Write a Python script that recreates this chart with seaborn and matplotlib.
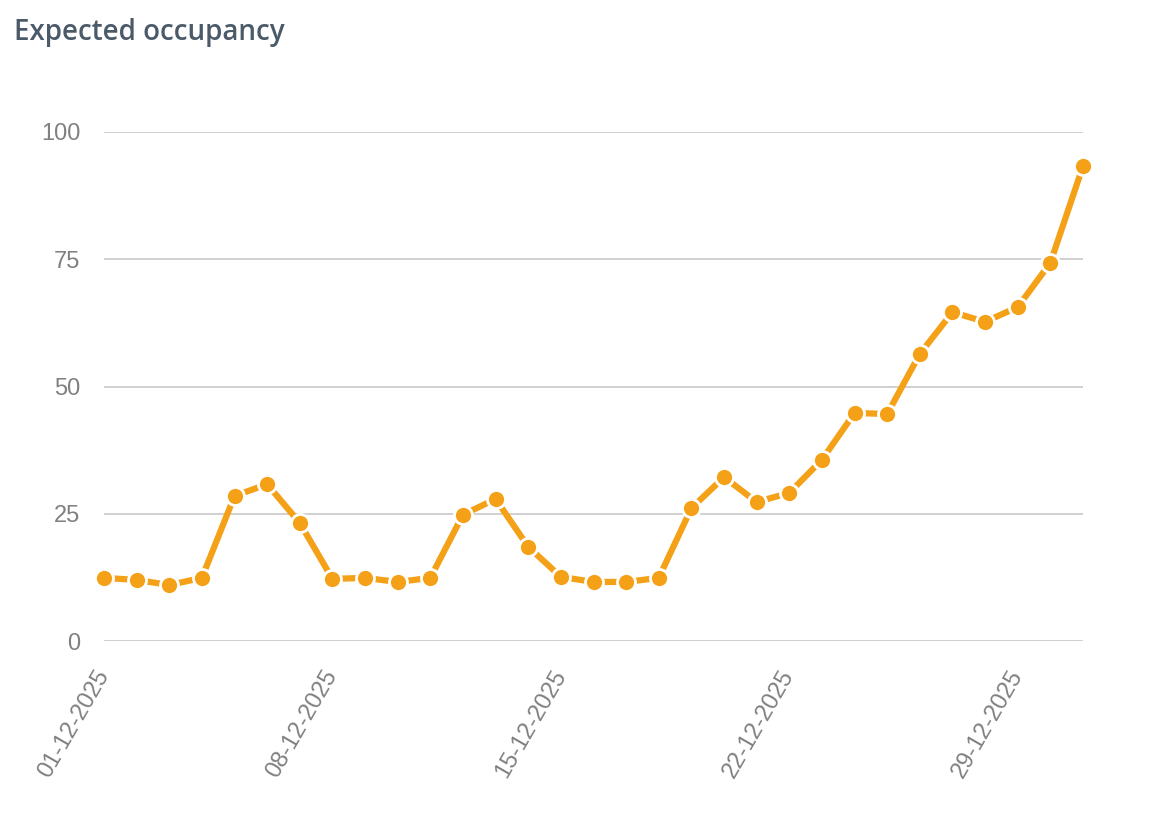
import matplotlib
matplotlib.use("Agg")
import matplotlib.pyplot as plt
import seaborn as sns
import pandas as pd
import numpy as np

dates = pd.date_range("2025-12-01", "2025-12-31", freq="D")
occupancy = [12.4, 12.0, 11.0, 12.4, 28.5, 30.8, 23.2, 12.2, 12.4, 11.6,
             12.4, 24.8, 27.9, 18.5, 12.6, 11.6, 11.6, 12.4, 26.1, 32.2,
             27.3, 29.1, 35.6, 44.8, 44.6, 56.4, 64.6, 62.7, 65.6, 74.3, 93.3]
y_ticks = [0, 25, 50, 75, 100]
x_tick_labels = ["01-12-2025", "08-12-2025", "15-12-2025", "22-12-2025", "29-12-2025"]
title = "Expected occupancy"

df = pd.DataFrame({"day": np.arange(len(dates)), "occupancy": occupancy})

sns.set_theme(style="white")
plt.rcParams["font.family"] = ["Liberation Sans", "DejaVu Sans"]

fig = plt.figure(figsize=(11.52, 8.30), dpi=100)
ax = fig.add_axes([104/1152, 1 - 641/830, (1083-104)/1152, (641-132)/830])

color = "#f4a118"
sns.lineplot(data=df, x="day", y="occupancy", ax=ax, color=color, linewidth=4.5,
             marker="o", markersize=13, markeredgecolor="white", markeredgewidth=2,
             clip_on=False, zorder=3)

ax.set_ylim(0, 100)
ax.set_xlim(0, len(dates) - 1)
ax.set_yticks(y_ticks)
ax.set_yticklabels([str(v) for v in y_ticks], fontsize=17, color="#808080")
ax.set_xticks([0, 7, 14, 21, 28])
ax.set_xticklabels(x_tick_labels, rotation=60, ha="right", va="center",
                   rotation_mode="anchor", fontsize=17, color="#808080")
ax.tick_params(axis="both", length=0)
ax.tick_params(axis="y", pad=17)
ax.tick_params(axis="x", pad=22)
ax.grid(axis="y", color="#c8c8c8", linewidth=1.2)
ax.grid(axis="x", visible=False)
for s in ax.spines.values():
    s.set_visible(False)
ax.set_xlabel("")
ax.set_ylabel("")

fig.text(14/1152, 1 - 40/830, title, fontsize=20, fontweight="semibold",
         color="#4b5a69", family=["Open Sans", "DejaVu Sans"], ha="left", va="baseline")

fig.savefig("out.png", dpi=100)
